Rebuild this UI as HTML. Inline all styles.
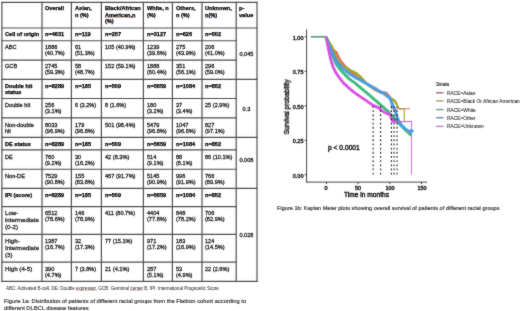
<!DOCTYPE html>
<html><head><meta charset="utf-8"><style>
html,body{margin:0;padding:0;background:#fff;}
body{width:520px;height:311px;position:relative;overflow:hidden;font-family:"Liberation Sans",sans-serif;}
.t,.k,.foot,.cap,.cap2{will-change:transform;}
svg{position:absolute;left:0;top:0;}
#wrap{position:absolute;left:0;top:0;width:520px;height:311px;background:#fff;filter:url(#bl);}
.t{position:absolute;white-space:nowrap;font-size:5.6px;line-height:6.3px;}
.b{font-weight:bold;color:#000;-webkit-text-stroke:0.25px #000;}
.r{color:#2a2a2a;-webkit-text-stroke:0.3px #2a2a2a;}
.pv{text-align:center;}
.gq{text-decoration:underline solid rgba(70,70,200,0.3);text-decoration-thickness:0.6px;text-underline-offset:0px;text-decoration-skip-ink:none;}
.sq{text-decoration:underline solid rgba(220,90,90,0.35);text-decoration-thickness:0.6px;text-underline-offset:0px;text-decoration-skip-ink:none;}
.k{position:absolute;white-space:nowrap;color:#222;-webkit-text-stroke:0.15px #222;}
.yt{left:286px;width:17.5px;text-align:right;font-size:5.5px;line-height:7px;-webkit-text-stroke:0.4px #222;}
.xt{top:184.7px;width:30px;text-align:center;font-size:5.5px;line-height:7px;-webkit-text-stroke:0.4px #222;}
.lg{left:447px;font-size:4.87px;line-height:6px;color:#2a2a2a;-webkit-text-stroke:0.08px #2a2a2a;}
.foot{position:absolute;left:6.2px;top:286.3px;font-size:4.55px;line-height:6px;color:#3a3a3a;-webkit-text-stroke:0.05px #3a3a3a;white-space:nowrap;}
.cap{position:absolute;left:3.7px;top:297.9px;font-size:5.77px;line-height:7.4px;color:#3a3a3a;-webkit-text-stroke:0.2px #3a3a3a;white-space:nowrap;}
.cap2{position:absolute;left:277.2px;top:204.7px;font-size:5.6px;line-height:6.9px;color:#3a3a3a;-webkit-text-stroke:0.2px #3a3a3a;white-space:nowrap;}
</style></head><body><svg width="0" height="0" style="position:absolute"><filter id="bl" x="0" y="0" width="100%" height="100%" color-interpolation-filters="sRGB"><feConvolveMatrix order="3" kernelMatrix="1 2 1 2 24 2 1 2 1" divisor="36" edgeMode="duplicate"/></filter></svg><div id="wrap">
<svg class="grid" width="520" height="311" viewBox="0 0 520 311"><g stroke="#505050" stroke-width="1.2" fill="none"><line x1="1.4" y1="2.3" x2="257.5" y2="2.3"/><line x1="1.4" y1="28.0" x2="257.5" y2="28.0"/><line x1="1.4" y1="40.76" x2="236.7" y2="40.76"/><line x1="1.4" y1="60.1" x2="236.7" y2="60.1"/><line x1="1.4" y1="79.3" x2="257.5" y2="79.3"/><line x1="1.4" y1="98.5" x2="236.7" y2="98.5"/><line x1="1.4" y1="117.8" x2="236.7" y2="117.8"/><line x1="1.4" y1="137.4" x2="257.5" y2="137.4"/><line x1="1.4" y1="149.8" x2="236.7" y2="149.8"/><line x1="1.4" y1="169.25" x2="236.7" y2="169.25"/><line x1="1.4" y1="188.45" x2="257.5" y2="188.45"/><line x1="1.4" y1="206.55" x2="236.7" y2="206.55"/><line x1="1.4" y1="234.45" x2="236.7" y2="234.45"/><line x1="1.4" y1="262.1" x2="236.7" y2="262.1"/><line x1="1.4" y1="281.4" x2="257.5" y2="281.4"/><line x1="1.9" y1="1.7999999999999998" x2="1.9" y2="281.9"/><line x1="42.0" y1="1.7999999999999998" x2="42.0" y2="281.9"/><line x1="71.4" y1="1.7999999999999998" x2="71.4" y2="281.9"/><line x1="101.4" y1="1.7999999999999998" x2="101.4" y2="281.9"/><line x1="143.4" y1="1.7999999999999998" x2="143.4" y2="281.9"/><line x1="172.4" y1="1.7999999999999998" x2="172.4" y2="281.9"/><line x1="202.0" y1="1.7999999999999998" x2="202.0" y2="281.9"/><line x1="236.2" y1="1.7999999999999998" x2="236.2" y2="281.9"/><line x1="257.0" y1="1.7999999999999998" x2="257.0" y2="281.9"/></g></svg>
<div class="t b" style="left:45.10px;top:5.30px;line-height:6.65px;">Overall</div>
<div class="t b" style="left:74.50px;top:5.30px;line-height:6.65px;">Asian,<br>n (%)</div>
<div class="t b" style="left:104.50px;top:5.30px;line-height:6.65px;">Black/African<br><u class='sq'>American,n</u><br>(%)</div>
<div class="t b" style="left:146.50px;top:5.30px;line-height:6.65px;">White, n<br>(%)</div>
<div class="t b" style="left:175.50px;top:5.30px;line-height:6.65px;">Others,<br>n (%)</div>
<div class="t b" style="left:205.10px;top:5.30px;line-height:6.65px;">Unknown,<br><u class='gq'>n(%)</u></div>
<div class="t b" style="left:239.30px;top:5.30px;line-height:6.65px;">p-<br>value</div>
<div class="t b" style="left:5.00px;top:31.30px;">Cell of origin</div>
<div class="t b" style="left:45.10px;top:31.30px;">n=4631</div>
<div class="t b" style="left:74.50px;top:31.30px;">n=119</div>
<div class="t b" style="left:104.50px;top:31.30px;">n=257</div>
<div class="t b" style="left:146.50px;top:31.30px;">n=3127</div>
<div class="t b" style="left:175.50px;top:31.30px;">n=626</div>
<div class="t b" style="left:205.10px;top:31.30px;">n=502</div>
<div class="t r" style="left:5.00px;top:44.06px;">ABC</div>
<div class="t r" style="left:45.10px;top:44.06px;">1886<br>(40.7%)</div>
<div class="t r" style="left:74.50px;top:44.06px;">61<br>(51.3%)</div>
<div class="t r" style="left:104.50px;top:44.06px;">105 (40.9%)</div>
<div class="t r" style="left:146.50px;top:44.06px;">1239<br>(39.6%)</div>
<div class="t r" style="left:175.50px;top:44.06px;">275<br>(43.9%)</div>
<div class="t r" style="left:205.10px;top:44.06px;">206<br>(41.0%)</div>
<div class="t r" style="left:5.00px;top:63.40px;">GCB</div>
<div class="t r" style="left:45.10px;top:63.40px;">2745<br>(59.3%)</div>
<div class="t r" style="left:74.50px;top:63.40px;">58<br>(48.7%)</div>
<div class="t r" style="left:104.50px;top:63.40px;">152 (59.1%)</div>
<div class="t r" style="left:146.50px;top:63.40px;">1888<br>(60.4%)</div>
<div class="t r" style="left:175.50px;top:63.40px;">351<br>(56.1%)</div>
<div class="t r" style="left:205.10px;top:63.40px;">296<br>(59.0%)</div>
<div class="t b" style="left:5.00px;top:83.10px;">Double hit<br>status</div>
<div class="t b" style="left:45.10px;top:83.10px;">n=8289</div>
<div class="t b" style="left:74.50px;top:83.10px;">n=185</div>
<div class="t b" style="left:104.50px;top:83.10px;">n=509</div>
<div class="t b" style="left:146.50px;top:83.10px;">n=5659</div>
<div class="t b" style="left:175.50px;top:83.10px;">n=1084</div>
<div class="t b" style="left:205.10px;top:83.10px;">n=852</div>
<div class="t r" style="left:5.00px;top:102.30px;">Double hit</div>
<div class="t r" style="left:45.10px;top:102.30px;">256<br>(3.1%)</div>
<div class="t r" style="left:74.50px;top:102.30px;">6 (3.2%)</div>
<div class="t r" style="left:104.50px;top:102.30px;">8 (1.6%)</div>
<div class="t r" style="left:146.50px;top:102.30px;">180<br>(3.2%)</div>
<div class="t r" style="left:175.50px;top:102.30px;">37<br>(3.4%)</div>
<div class="t r" style="left:205.10px;top:102.30px;">25 (2.9%)</div>
<div class="t r" style="left:5.00px;top:121.60px;">Non-double<br>hit</div>
<div class="t r" style="left:45.10px;top:121.60px;">8033<br>(96.9%)</div>
<div class="t r" style="left:74.50px;top:121.60px;">179<br>(96.8%)</div>
<div class="t r" style="left:104.50px;top:121.60px;">501 (98.4%)</div>
<div class="t r" style="left:146.50px;top:121.60px;">5479<br>(96.8%)</div>
<div class="t r" style="left:175.50px;top:121.60px;">1047<br>(96.6%)</div>
<div class="t r" style="left:205.10px;top:121.60px;">827<br>(97.1%)</div>
<div class="t b" style="left:5.00px;top:141.20px;">DE status</div>
<div class="t b" style="left:45.10px;top:141.20px;">n=8289</div>
<div class="t b" style="left:74.50px;top:141.20px;">n=185</div>
<div class="t b" style="left:104.50px;top:141.20px;">n=509</div>
<div class="t b" style="left:146.50px;top:141.20px;">n=5659</div>
<div class="t b" style="left:175.50px;top:141.20px;">n=1084</div>
<div class="t b" style="left:205.10px;top:141.20px;">n=852</div>
<div class="t r" style="left:5.00px;top:153.60px;">DE</div>
<div class="t r" style="left:45.10px;top:153.60px;">760<br>(9.2%)</div>
<div class="t r" style="left:74.50px;top:153.60px;">30<br>(16.2%)</div>
<div class="t r" style="left:104.50px;top:153.60px;">42 (8.3%)</div>
<div class="t r" style="left:146.50px;top:153.60px;">514<br>(9.1%)</div>
<div class="t r" style="left:175.50px;top:153.60px;">88<br>(8.1%)</div>
<div class="t r" style="left:205.10px;top:153.60px;">86 (10.1%)</div>
<div class="t r" style="left:5.00px;top:173.05px;">Non-DE</div>
<div class="t r" style="left:45.10px;top:173.05px;">7529<br>(90.8%)</div>
<div class="t r" style="left:74.50px;top:173.05px;">155<br>(83.8%)</div>
<div class="t r" style="left:104.50px;top:173.05px;">467 (91.7%)</div>
<div class="t r" style="left:146.50px;top:173.05px;">5145<br>(90.9%)</div>
<div class="t r" style="left:175.50px;top:173.05px;">996<br>(91.9%)</div>
<div class="t r" style="left:205.10px;top:173.05px;">766<br>(89.9%)</div>
<div class="t b" style="left:5.00px;top:192.25px;">IPI (score)</div>
<div class="t b" style="left:45.10px;top:192.25px;">n=8289</div>
<div class="t b" style="left:74.50px;top:192.25px;">n=185</div>
<div class="t b" style="left:104.50px;top:192.25px;">n=509</div>
<div class="t b" style="left:146.50px;top:192.25px;">n=5659</div>
<div class="t b" style="left:175.50px;top:192.25px;">n=1084</div>
<div class="t b" style="left:205.10px;top:192.25px;">n=852</div>
<div class="t r" style="left:5.00px;top:210.05px;font-size:6.15px;line-height:6.8px;">Low-<br>intermediate<br>(0-2)</div>
<div class="t r" style="left:45.10px;top:210.35px;">6512<br>(78.6%)</div>
<div class="t r" style="left:74.50px;top:210.35px;">146<br>(78.9%)</div>
<div class="t r" style="left:104.50px;top:210.35px;">411 (80.7%)</div>
<div class="t r" style="left:146.50px;top:210.35px;">4404<br>(77.8%)</div>
<div class="t r" style="left:175.50px;top:210.35px;">848<br>(78.2%)</div>
<div class="t r" style="left:205.10px;top:210.35px;">706<br>(82.9%)</div>
<div class="t r" style="left:5.00px;top:237.95px;font-size:6.15px;line-height:6.8px;">High-<br>Intermediate<br>(3)</div>
<div class="t r" style="left:45.10px;top:238.25px;">1387<br>(16.7%)</div>
<div class="t r" style="left:74.50px;top:238.25px;">32<br>(17.3%)</div>
<div class="t r" style="left:104.50px;top:238.25px;">77 (15.1%)</div>
<div class="t r" style="left:146.50px;top:238.25px;">971<br>(17.2%)</div>
<div class="t r" style="left:175.50px;top:238.25px;">183<br>(16.9%)</div>
<div class="t r" style="left:205.10px;top:238.25px;">124<br>(14.5%)</div>
<div class="t r" style="left:5.00px;top:265.60px;font-size:6.15px;line-height:6.8px;">High (4-5)</div>
<div class="t r" style="left:45.10px;top:265.90px;">390<br>(4.7%)</div>
<div class="t r" style="left:74.50px;top:265.90px;">7 (3.8%)</div>
<div class="t r" style="left:104.50px;top:265.90px;">21 (4.1%)</div>
<div class="t r" style="left:146.50px;top:265.90px;">287<br>(5.1%)</div>
<div class="t r" style="left:175.50px;top:265.90px;">53<br>(4.9%)</div>
<div class="t r" style="left:205.10px;top:265.90px;">22 (2.6%)</div>
<div class="t r pv" style="left:236.2px;width:20.80000000000001px;top:51.25px">0.045</div>
<div class="t r pv" style="left:236.2px;width:20.80000000000001px;top:105.85px">0.3</div>
<div class="t r pv" style="left:236.2px;width:20.80000000000001px;top:157.25px">0.008</div>
<div class="t r pv" style="left:236.2px;width:20.80000000000001px;top:231.75px">0.028</div>
<div class="foot">ABC: Activated B-cell, DE: Double <u class="sq">expressor</u>, GCB: Germinal <u class="sq">center</u> B, IPI: International Prognostic Score</div>
<div class="cap">Figure 1a: Distribution of patients of different racial groups from the Flatiron cohort according to<br>different DLBCL disease features</div>
<svg class="km" width="520" height="311" viewBox="0 0 520 311" fill="none" stroke-linejoin="round"><polyline points="326,36.75 328.8,41.5 331,45.5 333.2,50 336.5,52.5 338.7,57.5 341,61.5 343.2,64 345,66.25 347.3,69 350,71.5 356,76 360,79.2 365,82.6 370,86.2 374,89.2 380,92 386,92.8 389,96 391.2,101" stroke="#e5705f" stroke-width="2.2"/><polyline points="331,45.5 333.2,50 336.5,52.5 338.7,57.5 341,61.5 343.2,64 345,66.25 347.3,69 350,71.5 356,76 360,79.2 365,82.6 370,86.2 374,89.2 380,92 386,92.8 389,96 391.2,101" stroke="#e5705f" stroke-width="3.4000000000000004" stroke-dasharray="0.7 1.6" opacity="0.8"/><polyline points="391.2,101 391.4,108.6 399.5,108.8 410,108.8" stroke="#e5705f" stroke-width="1.1"/><polyline points="326,36.75 328.8,41.5 331,45.5 333.2,50 335,54.5 336.8,58.5 339,62 341.5,65 344,67 347.3,68.2 350,70.2 356,73 360,76.5 363,79.5 366,83.3 370,85.9 375,88.6 380,91.8 385,94.5 390,98 394.6,100.8 397.2,105" stroke="#a3a325" stroke-width="2.2"/><polyline points="331,45.5 333.2,50 335,54.5 336.8,58.5 339,62 341.5,65 344,67 347.3,68.2 350,70.2 356,73 360,76.5 363,79.5 366,83.3 370,85.9 375,88.6 380,91.8 385,94.5 390,98 394.6,100.8 397.2,105" stroke="#a3a325" stroke-width="3.4000000000000004" stroke-dasharray="0.7 1.6" opacity="0.8"/><polyline points="397.2,105 399.5,109 404.3,109 404.3,121" stroke="#a3a325" stroke-width="1.1"/><polyline points="326,36.75 329,47 331.5,54 333.8,58.5 335.7,63 338.6,67.5 342,71.5 347.3,77 350,79.5 355,83 360,87.3 367.5,93.5 375,100 382.5,106.5 388.75,112 391.25,115 398.75,123 405,129.5 411.5,135.5" stroke="#3dbb7a" stroke-width="2.6"/><polyline points="331.5,54 333.8,58.5 335.7,63 338.6,67.5 342,71.5 347.3,77 350,79.5 355,83 360,87.3 367.5,93.5 375,100 382.5,106.5 388.75,112 391.25,115 398.75,123 405,129.5 411.5,135.5" stroke="#3dbb7a" stroke-width="3.8" stroke-dasharray="0.7 1.6" opacity="0.8"/><polyline points="326,36.75 328.5,44 330.7,49 333.6,56 334.8,58 337,62 340.5,66 344,69.5 347.3,72 350,74.2 356,78 360,79.8 365,82.8 370,85.6 375,88.3 380,91.5 385,94.2 390,98.3 391.5,102 393.3,107 395.6,111.9 397.5,118.5 401.25,125 407.5,131 413.5,131" stroke="#4b9de6" stroke-width="2.6"/><polyline points="330.7,49 333.6,56 334.8,58 337,62 340.5,66 344,69.5 347.3,72 350,74.2 356,78 360,79.8 365,82.8 370,85.6 375,88.3 380,91.5 385,94.2 390,98.3 391.5,102 393.3,107 395.6,111.9 397.5,118.5 401.25,125 407.5,131 413.5,131" stroke="#4b9de6" stroke-width="3.8" stroke-dasharray="0.7 1.6" opacity="0.8"/><polyline points="326,36.75 327,42 328.3,49 330.4,58 331.5,62 333.3,67.5 336,73 339.6,78 343,82.5 347.3,86.5 350,89 354,92.3 360,96.5 367.5,101.5 372.5,105 378.75,108 383,111.5 387.5,113.8 390,114.6 392.5,121 396.25,121.7" stroke="#d94fe6" stroke-width="2.5"/><polyline points="328.3,49 330.4,58 331.5,62 333.3,67.5 336,73 339.6,78 343,82.5 347.3,86.5 350,89 354,92.3 360,96.5 367.5,101.5 372.5,105 378.75,108 383,111.5 387.5,113.8 390,114.6 392.5,121 396.25,121.7" stroke="#d94fe6" stroke-width="3.7" stroke-dasharray="0.7 1.6" opacity="0.8"/><polyline points="396.25,121.7 411.5,121.5" stroke="#d94fe6" stroke-width="1.1"/><line x1="411.5" y1="121.5" x2="411.5" y2="174.5" stroke="#d94fe6" stroke-width="1" opacity="0.85"/><line x1="310.8" y1="36.8" x2="326" y2="36.8" stroke="#6a9e88" stroke-width="1.8"/><line x1="373.1" y1="106" x2="373.1" y2="174.8" stroke="#222" stroke-width="1.1" stroke-dasharray="1.8 2.37"/><line x1="380.6" y1="106" x2="380.6" y2="174.8" stroke="#222" stroke-width="1.1" stroke-dasharray="1.8 2.37"/><line x1="391.4" y1="106" x2="391.4" y2="174.8" stroke="#222" stroke-width="1.1" stroke-dasharray="1.8 2.37"/><line x1="394.0" y1="106" x2="394.0" y2="174.8" stroke="#222" stroke-width="1.1" stroke-dasharray="1.8 2.37"/><line x1="397.0" y1="106" x2="397.0" y2="174.8" stroke="#222" stroke-width="1.1" stroke-dasharray="1.8 2.37"/><line x1="306.6" y1="29.5" x2="306.6" y2="182.5" stroke="#333" stroke-width="0.9"/><line x1="306.2" y1="182.1" x2="427" y2="182.1" stroke="#333" stroke-width="0.9"/><line x1="304.6" y1="36.75" x2="306.6" y2="36.75" stroke="#333" stroke-width="0.9"/><line x1="304.6" y1="71.25" x2="306.6" y2="71.25" stroke="#333" stroke-width="0.9"/><line x1="304.6" y1="105.75" x2="306.6" y2="105.75" stroke="#333" stroke-width="0.9"/><line x1="304.6" y1="140.25" x2="306.6" y2="140.25" stroke="#333" stroke-width="0.9"/><line x1="304.6" y1="174.75" x2="306.6" y2="174.75" stroke="#333" stroke-width="0.9"/><line x1="326.5" y1="182.1" x2="326.5" y2="184.1" stroke="#333" stroke-width="0.9"/><line x1="358.1" y1="182.1" x2="358.1" y2="184.1" stroke="#333" stroke-width="0.9"/><line x1="389.8" y1="182.1" x2="389.8" y2="184.1" stroke="#333" stroke-width="0.9"/><line x1="421.5" y1="182.1" x2="421.5" y2="184.1" stroke="#333" stroke-width="0.9"/><line x1="436.2" y1="92.8" x2="443.5" y2="92.8" stroke="#a8607a" stroke-width="1.4"/><line x1="436.2" y1="100.9" x2="443.5" y2="100.9" stroke="#9c9c68" stroke-width="1.4"/><line x1="436.2" y1="109.6" x2="443.5" y2="109.6" stroke="#6aa088" stroke-width="1.4"/><line x1="436.2" y1="117.7" x2="443.5" y2="117.7" stroke="#5a90b0" stroke-width="1.4"/><line x1="436.2" y1="126.4" x2="443.5" y2="126.4" stroke="#c478d8" stroke-width="1.4"/></svg>
<div class="k yt" style="top:34.85px">1.00</div>
<div class="k yt" style="top:69.35px">0.75</div>
<div class="k yt" style="top:103.85px">0.50</div>
<div class="k yt" style="top:138.35px">0.25</div>
<div class="k yt" style="top:172.85px">0.00</div>
<div class="k xt" style="left:311.40px;">0</div>
<div class="k xt" style="left:343.00px;">50</div>
<div class="k xt" style="left:374.70px;">100</div>
<div class="k xt" style="left:406.60px;">150</div>
<div class="k lg" style="top:90.80px">RACE=Asian</div>
<div class="k lg" style="top:98.90px">RACE=Black Or African American</div>
<div class="k lg" style="top:107.60px">RACE=White</div>
<div class="k lg" style="top:115.70px">RACE=Other</div>
<div class="k lg" style="top:124.40px">RACE=Unknown</div>
<div class="k" style="left:436px;top:82.1px;font-size:4.87px;line-height:6px;">Strata</div>
<div class="k" style="left:328px;top:143.7px;font-size:6.7px;line-height:8px;color:#1a1a1a;-webkit-text-stroke:0.4px #1a1a1a">p &lt; 0.0001</div>
<div class="k" style="left:344.1px;top:190.9px;font-size:6.63px;line-height:8px;color:#1a1a1a;-webkit-text-stroke:0.4px #1a1a1a">Time in months</div>
<div class="k" style="left:287.1px;top:106.8px;font-size:6.55px;line-height:8px;transform:translate(-50%,-50%) rotate(-90deg);color:#1a1a1a;-webkit-text-stroke:0.4px #1a1a1a">Survival probability</div>
<div class="cap2">Figure 1b: Kaplan Meier plots showing overall survival of patients of different racial groups</div>
</div></body></html>
